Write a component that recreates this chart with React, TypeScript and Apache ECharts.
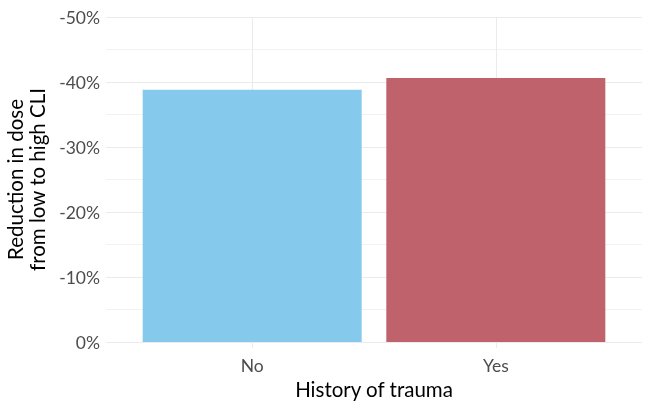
import React, { useEffect, useRef } from "react";
import * as echarts from "echarts";

const categories = ["No", "Yes"];
const values = [-38.8, -40.6];
const barColors = ["#85C9EC", "#BF626B"];
const yTicks = [0, -10, -20, -30, -40, -50];

export default function App() {
  const ref = useRef<HTMLDivElement>(null);
  useEffect(() => {
    if (!ref.current) return;
    const chart = echarts.init(ref.current, null, { renderer: "svg" });
    const font = "Lato";
    chart.setOption({
      animation: false,
      grid: { left: 106, right: 5, top: 17, bottom: 60, containLabel: false, outerBoundsMode: "none" },
      xAxis: {
        type: "value",
        min: 0.4,
        max: 2.6,
        name: "History of trauma",
        nameLocation: "middle",
        nameGap: 33,
        nameTextStyle: { fontFamily: font, fontSize: 20.5, color: "#000" },
        axisLine: { show: false },
        axisTick: {
          show: true,
          customValues: [1, 2],
          length: 6,
          lineStyle: { color: "#EBEBEB", width: 1 },
        },
        axisLabel: {
          customValues: [1, 2],
          formatter: (v: number) => categories[Math.round(v) - 1] ?? "",
          fontFamily: font,
          fontSize: 17.5,
          color: "#4D4D4D",
          margin: 14,
        },
        splitLine: { show: true, lineStyle: { color: "#EBEBEB", width: 1 } },
      },
      yAxis: {
        type: "value",
        min: Math.min(...yTicks),
        max: Math.max(...yTicks),
        interval: 10,
        inverse: true,
        name: "Reduction in dose\nfrom low to high CLI",
        nameLocation: "middle",
        nameGap: 52,
        nameRotate: 90,
        nameTextStyle: { fontFamily: font, fontSize: 20.5, color: "#000", lineHeight: 22, align: "center" },
        axisLine: { show: false },
        axisTick: { show: false },
        axisLabel: {
          formatter: (v: number) => `${v}%`,
          fontFamily: font,
          fontSize: 17.5,
          color: "#4D4D4D",
          margin: 6,
        },
        splitLine: { show: true, lineStyle: { color: "#EBEBEB", width: 1 } },
        minorTick: { show: false, splitNumber: 2 },
        minorSplitLine: { show: true, lineStyle: { color: "#F2F2F2", width: 1 } },
      },
      series: [
        {
          type: "bar",
          barWidth: 219,
          data: values.map((v, i) => ({
            value: [i + 1, v],
            itemStyle: { color: barColors[i] },
          })),
        },
      ],
    });
    return () => chart.dispose();
  }, []);
  return <div ref={ref} style={{ position: "fixed", left: 0, top: 0, width: 647, height: 402 }} />;
}
